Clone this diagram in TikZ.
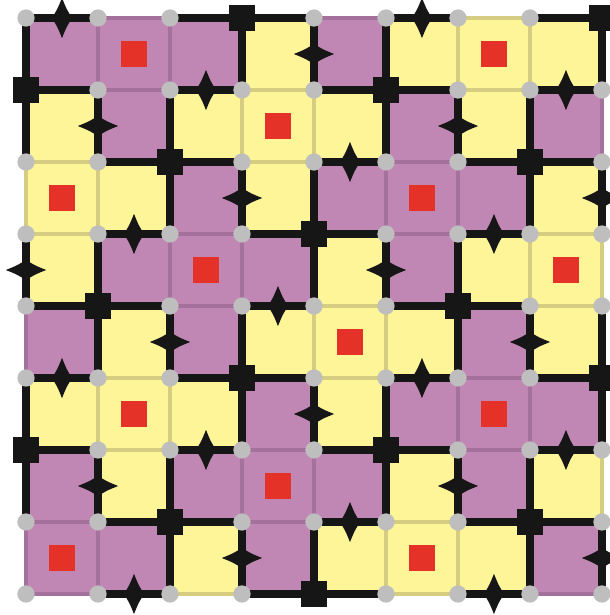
\documentclass[tikz,border=0pt]{standalone}
\usepackage{tikz}

\definecolor{plum}{RGB}{192,134,180}
\definecolor{plumline}{RGB}{165,112,156}
\definecolor{straw}{RGB}{253,245,152}
\definecolor{strawline}{RGB}{214,205,128}
\definecolor{dotgray}{RGB}{190,190,190}
\definecolor{pinred}{RGB}{228,50,40}
\definecolor{ink}{RGB}{22,22,22}

\tikzset{
    cellP/.style={fill=plum, draw=plumline, line width=1.5pt},
    cellY/.style={fill=straw, draw=strawline, line width=1.5pt},
    wall/.style={draw=ink, line width=3.4pt},
    gem/.pic={\fill[ink] (0,0.28) .. controls (0.062,0.125) .. (0.14,0)
        .. controls (0.062,-0.125) .. (0,-0.28)
        .. controls (-0.062,-0.125) .. (-0.14,0)
        .. controls (-0.062,0.125) .. cycle;}
}

\begin{document}
\begin{tikzpicture}
    \useasboundingbox (-0.361,0.25) rectangle (8.111,-8.292);

    % Colour the cells, row by row from the top
    \foreach \row [count=\r from 0] in {{P,P,P,Y,P,Y,Y,Y},{Y,P,Y,Y,Y,P,Y,P},
        {Y,Y,P,Y,P,P,P,Y},{Y,P,P,P,Y,P,Y,Y},{P,Y,P,Y,Y,Y,P,Y},
        {Y,Y,Y,P,Y,P,P,P},{P,Y,P,P,P,Y,P,Y},{P,P,Y,P,Y,Y,Y,P}}{
        \foreach \tone [count=\c from 0] in \row
            \draw[cell\tone] (\c,-\r) rectangle ++(1,-1);
    }

    % Horizontal walls (diamond where no black square is touched)
    \foreach \i in {0,...,7}
        \foreach \j in {0,...,8}{
            \pgfmathtruncatemacro{\k}{mod(\i+3*\j,5)}
            \ifnum\k=1 \else\ifnum\k=4 \else
                \draw[wall] (\i,-\j) -- ++(1,0);
            \fi\fi
            \ifnum\k=0 \pic at (\i+0.5,-\j) {gem}; \fi
        }

    % Vertical walls
    \foreach \i in {0,...,8}
        \foreach \j in {0,...,7}{
            \pgfmathtruncatemacro{\k}{mod(\i+3*\j,5)}
            \ifnum\k=1 \else\ifnum\k=2 \else
                \draw[wall] (\i,-\j) -- ++(0,-1);
            \fi\fi
            \ifnum\k=4 \pic[rotate=90] at (\i,-\j-0.5) {gem}; \fi
        }

    % Red squares in the middle of each plus
    \foreach \c in {0,...,7}
        \foreach \r in {0,...,7}{
            \pgfmathtruncatemacro{\k}{mod(\c+3*\r,5)}
            \ifnum\k=1
                \fill[pinred] (\c+0.315,-\r-0.315) rectangle ++(0.37,-0.37);
            \fi
        }

    % Black squares and grey dots on the vertices
    \foreach \i in {0,...,8}
        \foreach \j in {0,...,8}{
            \pgfmathtruncatemacro{\k}{mod(\i+3*\j,5)}
            \ifnum\k=3
                \fill[ink] (\i-0.185,-\j+0.185) rectangle ++(0.37,-0.37);
            \else
                \fill[dotgray] (\i,-\j) circle (0.12);
            \fi
        }
\end{tikzpicture}
\end{document}
